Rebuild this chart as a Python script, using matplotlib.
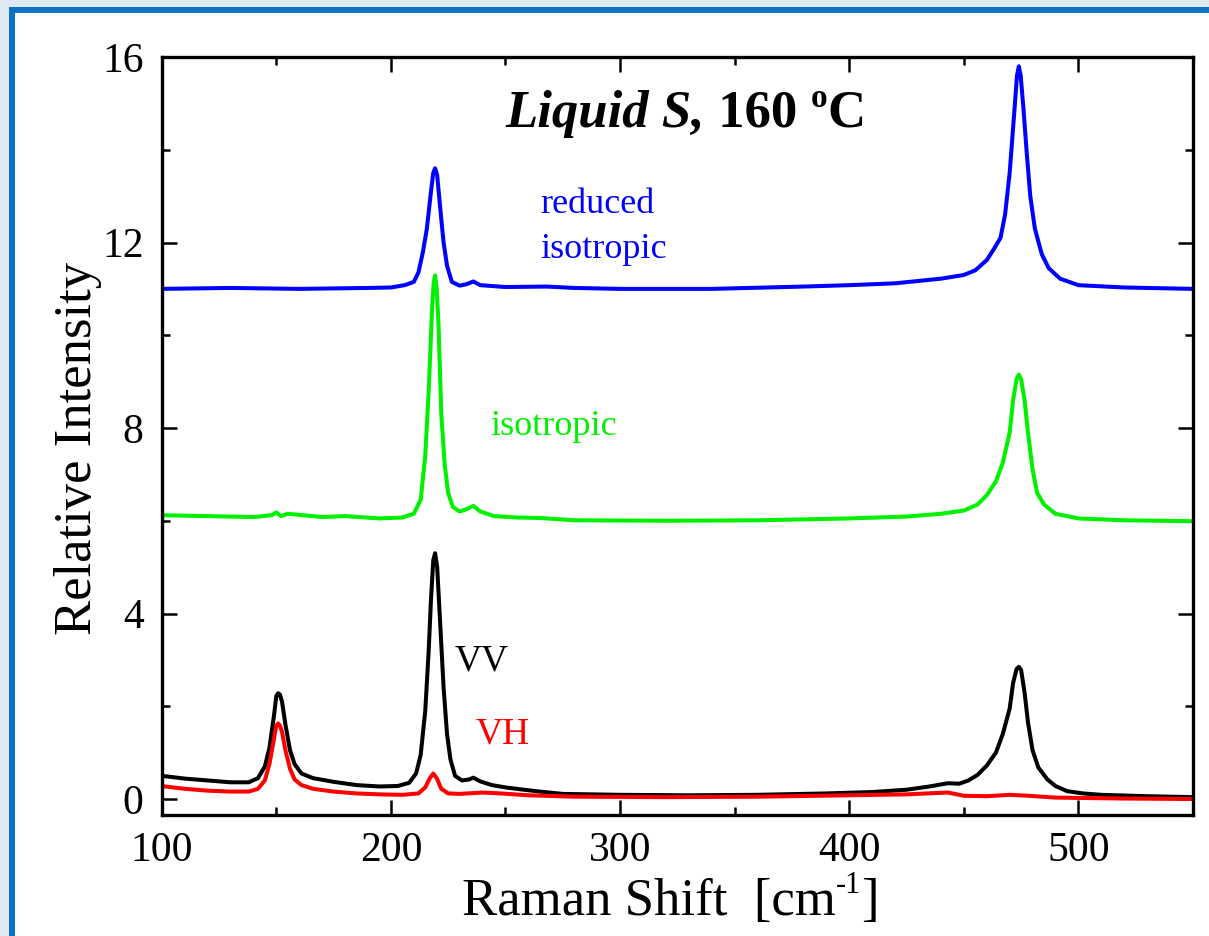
import matplotlib
matplotlib.use("Agg")
import matplotlib.pyplot as plt
from matplotlib.patches import Rectangle
from matplotlib.ticker import MultipleLocator

plt.rcParams["font.family"] = ["Liberation Serif", "DejaVu Serif"]

# ── Data ────────────────────────────────────────────────────────────────────
vv_x = [100, 110, 120, 130, 138, 142, 145, 147, 149, 150, 150.8, 151.6, 152.5, 154, 156, 158,
        161, 166, 175, 185, 195, 203, 208, 211, 213, 215, 216.5, 217.5, 218.5, 219.3, 220.2,
        221.5, 223, 224.5, 226, 228, 231, 234, 236, 239, 244, 250, 258, 265, 275,
        300, 330, 360, 390, 410, 425, 435, 443, 448, 452, 456, 460, 464, 467, 470,
        471.5, 473, 474, 475, 476.5, 478, 480, 482.5, 486.5, 490, 495, 502, 510, 530, 550]
vv_y = [0.50, 0.44, 0.40, 0.36, 0.36, 0.45, 0.70, 1.10, 1.80, 2.22, 2.28, 2.25, 2.10, 1.60, 1.05, 0.75,
        0.55, 0.45, 0.37, 0.30, 0.27, 0.28, 0.35, 0.55, 0.95, 1.90, 3.20, 4.30, 5.15, 5.30, 5.00,
        3.80, 2.40, 1.40, 0.85, 0.50, 0.40, 0.42, 0.46, 0.38, 0.30, 0.25, 0.20, 0.16, 0.11,
        0.09, 0.08, 0.09, 0.12, 0.15, 0.20, 0.27, 0.34, 0.33, 0.40, 0.52, 0.72, 1.00, 1.40, 1.95,
        2.50, 2.80, 2.85, 2.78, 2.30, 1.65, 1.05, 0.68, 0.42, 0.28, 0.17, 0.12, 0.09, 0.06, 0.04]

vh_x = [100, 110, 120, 130, 138, 142, 145, 147, 149, 150, 150.8, 151.6, 152.5, 154, 156, 158,
        161, 166, 175, 185, 195, 205, 212, 215, 217, 218.5, 220, 222, 225, 230, 240,
        248, 260, 280, 320, 360, 400, 425, 443, 450, 460, 470, 478, 490, 520, 550]
vh_y = [0.28, 0.22, 0.18, 0.16, 0.16, 0.22, 0.40, 0.75, 1.30, 1.58, 1.63, 1.58, 1.45, 1.05, 0.65, 0.42,
        0.30, 0.22, 0.16, 0.12, 0.10, 0.09, 0.12, 0.25, 0.45, 0.55, 0.45, 0.22, 0.12, 0.11, 0.14,
        0.12, 0.08, 0.05, 0.04, 0.05, 0.08, 0.10, 0.14, 0.07, 0.06, 0.09, 0.07, 0.03, 0.01, 0.00]

iso_x = [100, 120, 140, 148, 150, 152, 155, 170, 180, 195, 205, 210, 213, 215, 216.5,
         218, 218.7, 219.3, 220, 220.8, 222, 223.5, 225, 227, 230, 233, 236, 239, 245, 255, 265,
         280, 320, 360, 400, 425, 440, 450, 456, 460, 464, 467, 470, 471.5, 473, 474, 475,
         476.5, 478, 480, 482, 485, 490, 500, 520, 550]
iso_y = [6.12, 6.10, 6.08, 6.12, 6.18, 6.10, 6.15, 6.08, 6.10, 6.05, 6.07, 6.15, 6.45, 7.40, 8.80,
         10.60, 11.15, 11.29, 11.00, 10.20, 8.30, 7.20, 6.60, 6.30, 6.20, 6.25, 6.32, 6.20, 6.10, 6.07,
         6.06, 6.01, 6.00, 6.01, 6.05, 6.09, 6.15, 6.22, 6.35, 6.55, 6.85, 7.25, 7.90, 8.60, 9.05, 9.15,
         9.05, 8.60, 7.90, 7.10, 6.60, 6.35, 6.15, 6.05, 6.01, 5.99]

red_iso_x = [100, 130, 160, 190, 200, 206, 210, 212, 214, 215.7, 217.5, 218.5, 219.3, 220.2,
             222, 223, 224.5, 226.6, 230, 233, 236, 239, 250, 268, 280, 300, 340, 380, 400, 420,
             440, 450, 455, 460, 463, 466, 468, 470, 472, 473.2, 474, 474.8, 476, 477.5, 479,
             481, 484, 487, 492, 500, 520, 550]
red_iso_y = [11.00, 11.02, 11.00, 11.02, 11.03, 11.08, 11.15, 11.35, 11.80, 12.30, 13.10, 13.50,
             13.60, 13.45, 12.50, 12.00, 11.50, 11.15, 11.07, 11.10, 11.16, 11.08, 11.04, 11.05,
             11.02, 11.00, 11.00, 11.05, 11.08, 11.12, 11.22, 11.30, 11.40, 11.62, 11.85, 12.10,
             12.60, 13.50, 14.80, 15.60, 15.80, 15.60, 14.90, 13.90, 13.00, 12.30, 11.75, 11.45,
             11.22, 11.08, 11.03, 11.00]

x_ticks = [100, 200, 300, 400, 500]
y_ticks = [0, 4, 8, 12, 16]

# ── Figure & frame ──────────────────────────────────────────────────────────
W, H = 1209, 936
fig = plt.figure(figsize=(W / 100, H / 100), dpi=100, facecolor="#dfe9f4")
fig.patches.append(Rectangle((15 / W, 0), 1, 1 - 13 / H, transform=fig.transFigure,
                             facecolor="white", edgecolor="none", zorder=-20))
fig.patches.append(Rectangle((9 / W, 0), 6 / W, 1 - 7 / H, transform=fig.transFigure,
                             facecolor="#0b73c2", edgecolor="none", zorder=-10))
fig.patches.append(Rectangle((9 / W, 1 - 13 / H), 1, 6 / H, transform=fig.transFigure,
                             facecolor="#0b73c2", edgecolor="none", zorder=-10))

ax = fig.add_axes([161.7 / W, 1 - 815 / H, (1193 - 161.7) / W, (815 - 57) / H])
ax.set_facecolor("white")

lw = 2.9
ax.plot(red_iso_x, red_iso_y, color="#0000ff", lw=lw)
ax.plot(iso_x, iso_y, color="#00f000", lw=lw)
ax.plot(vv_x, vv_y, color="black", lw=lw)
ax.plot(vh_x, vh_y, color="#ff0000", lw=lw)

ax.set_xlim(100, 550)
ax.set_ylim(-0.345, 16)
ax.set_xticks(x_ticks)
ax.set_yticks(y_ticks)
ax.xaxis.set_minor_locator(MultipleLocator(50))
ax.yaxis.set_minor_locator(MultipleLocator(2))
ax.tick_params(which="both", direction="in", top=True, right=True, width=1.8,
               labelsize=30)
ax.tick_params(axis="x", pad=12)
ax.tick_params(axis="y", pad=13)
ax.tick_params(which="major", length=11)
ax.tick_params(which="minor", length=6)
for s in ax.spines.values():
    s.set_linewidth(2.4)

ax.set_ylabel("Relative Intensity", fontsize=38)
ax.yaxis.set_label_coords(-0.058, 0.4835)

# x label built from pieces so the superscript keeps a plain hyphen
xl1 = fig.text(462 / W, 1 - 915 / H, "Raman Shift  [cm", fontsize=38, va="baseline")
xl2 = ax.annotate("-1", xy=(1, 0.55), xycoords=xl1, fontsize=22, va="bottom")
ax.annotate("]", xy=(1, 0), xycoords=(xl2, xl1), fontsize=38, va="bottom")

# ── Annotations ─────────────────────────────────────────────────────────────
t1 = ax.text(250, 14.5, "Liquid S,", fontsize=38, fontweight="bold", style="italic",
             va="baseline")
t2 = ax.annotate(" 160 ", xy=(1, 0), xycoords=t1, fontsize=38, fontweight="bold",
                 va="bottom")
t3 = ax.annotate("o", xy=(1, 0.5), xycoords=t2, fontsize=24, fontweight="bold",
                 va="bottom")
ax.annotate("C", xy=(1, 0), xycoords=(t3, t2), fontsize=38, fontweight="bold",
            va="bottom")

ax.text(265.2, 12.63, "reduced", fontsize=26, color="#0000ff", va="baseline")
ax.text(265.2, 11.66, "isotropic", fontsize=26, color="#0000ff", va="baseline")
ax.text(243.4, 7.84, "isotropic", fontsize=26, color="#00f000", va="baseline")
ax.text(228, 2.78, "VV", fontsize=27, color="black", va="baseline")
ax.text(236.8, 1.19, "VH", fontsize=27, color="#ff0000", va="baseline")

fig.savefig("out.png", dpi=100, facecolor=fig.get_facecolor())
